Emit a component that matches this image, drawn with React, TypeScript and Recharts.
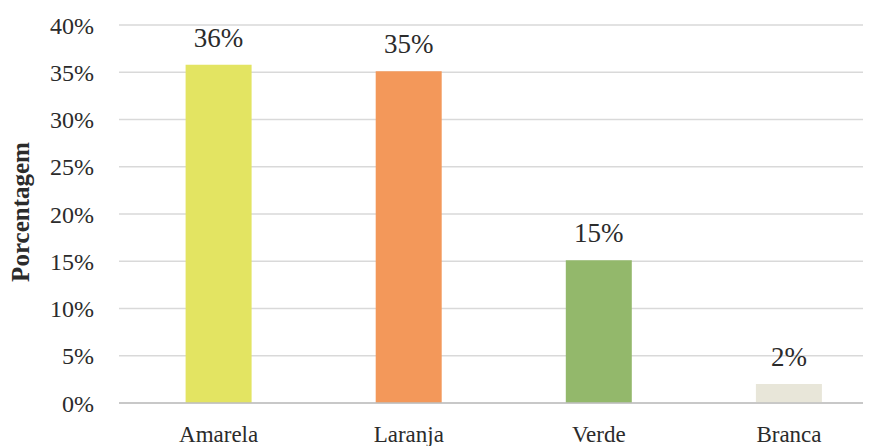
import { BarChart, Bar, XAxis, YAxis, CartesianGrid, Cell, LabelList, Label } from "recharts"

// color categories and their share (%)
const categorias = ["Amarela", "Laranja", "Verde", "Branca"]
const porcentagens = [35.8, 35.1, 15.1, 2.0]
const cores = ["#E3E462", "#F3985A", "#93B86B", "#E8E6D9"]
const yTicks = [0, 5, 10, 15, 20, 25, 30, 35, 40]

const FONT = "'Liberation Serif', 'Times New Roman', serif"
const TEXT = "#2b2b2b"

const data = categorias.map((nome, i) => ({ nome, valor: porcentagens[i] }))

const AxisTitle = () => (
  <text
    x={20}
    y={212}
    transform="rotate(-90 20 212)"
    textAnchor="middle"
    dominantBaseline="central"
    fontFamily={FONT}
    fontWeight="bold"
    fontSize={25}
    fill={TEXT}
  >
    Porcentagem
  </text>
)

const App = () => {
  return (
    <div style={{ margin: "-8px 0 0 -8px", width: 871, height: 446, overflow: "hidden", background: "#fff" }}>
      <BarChart
        width={884}
        height={446}
        data={data}
        margin={{ top: 25, right: 0, bottom: 0, left: 0 }}
      >
        <CartesianGrid vertical={false} stroke="#D9D9D9" strokeWidth={1.5} />
        <XAxis
          dataKey="nome"
          height={43}
          padding={{ left: 4.6, right: 0 }}
          axisLine={{ stroke: "#BFBFBF", strokeWidth: 1.5 }}
          tickLine={false}
          tickSize={0}
          tickMargin={23}
          tick={{ fontFamily: FONT, fontSize: 23, fill: TEXT }}
        />
        <YAxis
          width={119}
          domain={[0, 40]}
          ticks={yTicks}
          axisLine={false}
          tickLine={false}
          tickSize={0}
          tickMargin={25}
          tickFormatter={(v: number) => `${v}%`}
          tick={{ fontFamily: FONT, fontSize: 24, fill: TEXT }}
        >
          <Label content={AxisTitle} />
        </YAxis>
        <Bar dataKey="valor" barSize={66} isAnimationActive={false}>
          {data.map((d, i) => (
            <Cell key={d.nome} fill={cores[i]} />
          ))}
          <LabelList
            dataKey="valor"
            position="top"
            offset={18}
            formatter={(v: number) => `${Math.round(v)}%`}
            style={{ fontFamily: FONT, fontSize: 27, fill: TEXT }}
          />
        </Bar>
      </BarChart>
    </div>
  )
}

export default App
